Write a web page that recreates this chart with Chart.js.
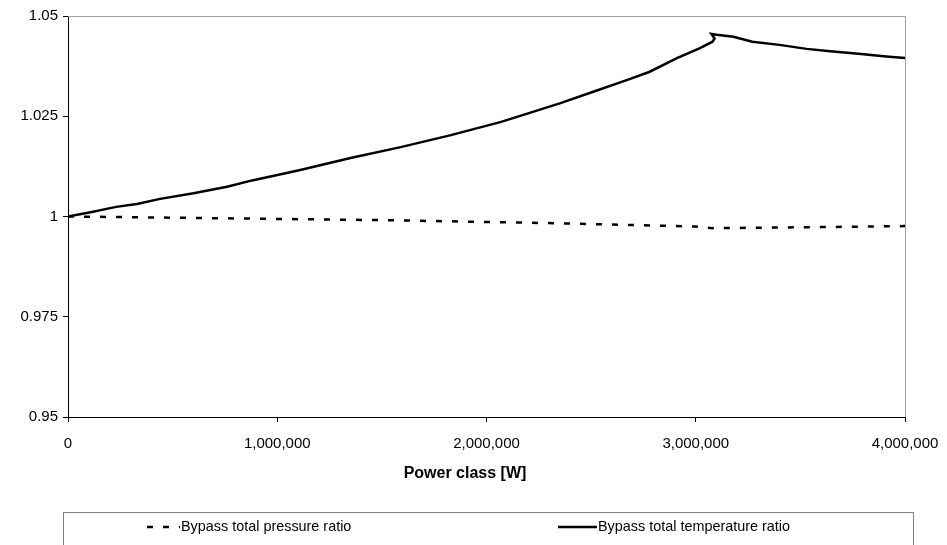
<!DOCTYPE html>
<html>
<head>
<meta charset="utf-8">
<title>Bypass ratios vs power class</title>
<script src="https://cdn.jsdelivr.net/npm/chart.js@4.4.1/dist/chart.umd.min.js"></script>
<style>
    html, body { margin: 0; padding: 0; background: #fff; }
    #wrap { width: 947px; height: 545px; }
</style>
</head>
<body>
<div id="wrap"><canvas id="ratio-chart" width="947" height="545"></canvas></div>
<script>
// --- Data ---
const tempPower = [0, 120000, 230000, 330000, 440000, 600000, 760000, 880000, 1110000, 1350000,
    1590000, 1830000, 2070000, 2350000, 2510000, 2670000, 2780000, 2910000, 3020000, 3080000,
    3090000, 3075000, 3100000, 3180000, 3270000, 3400000, 3530000, 3630000, 3790000, 3910000, 4000000];
const tempRatio = [1.0000, 1.0012, 1.0024, 1.0031, 1.0044, 1.0058, 1.0074, 1.0090, 1.0116, 1.0146,
    1.0173, 1.0203, 1.0236, 1.0282, 1.0311, 1.0340, 1.0361, 1.0395, 1.0420, 1.0436,
    1.0444, 1.0455, 1.0453, 1.0448, 1.0436, 1.0428, 1.0418, 1.0413, 1.0405, 1.0399, 1.0395];

const pressPower = [0, 500000, 1000000, 1500000, 1830000, 2350000, 2750000, 3000000, 3080000, 3300000, 3650000, 4000000];
const pressRatio = [1.0000, 0.9997, 0.9994, 0.9991, 0.9988, 0.9983, 0.9978, 0.9975, 0.9971, 0.9972, 0.9974, 0.9976];

const xTicks = [0, 1000000, 2000000, 3000000, 4000000];
const yTicks = [0.95, 0.975, 1, 1.025, 1.05];
const seriesNames = ['Bypass total pressure ratio', 'Bypass total temperature ratio'];
const xTitle = 'Power class [W]';

document.addEventListener('DOMContentLoaded', () => {
    const ctx = document.getElementById('ratio-chart');
    const fontFamily = '"Liberation Sans", Arial, sans-serif';
    const toPoints = (xs, ys) => xs.map((x, i) => ({ x: x, y: ys[i] }));

    // plot-area frame (grey top/right), axis title and the boxed legend
    const excelFrame = {
        id: 'excelFrame',
        beforeDatasetsDraw(chart) {
            const { ctx, chartArea: a } = chart;
            ctx.save();
            ctx.strokeStyle = '#a0a0a0';
            ctx.lineWidth = 1;
            ctx.beginPath();
            ctx.moveTo(a.left, a.top + 0.5);
            ctx.lineTo(a.right + 0.5, a.top + 0.5);
            ctx.lineTo(a.right + 0.5, a.bottom);
            ctx.stroke();
            ctx.restore();
        },
        afterDraw(chart) {
            const { ctx } = chart;
            ctx.save();

            // x axis title (Excel centres it a bit left of the plot centre)
            ctx.fillStyle = '#000';
            ctx.font = 'bold 16px ' + fontFamily;
            ctx.textAlign = 'center';
            ctx.textBaseline = 'middle';
            ctx.fillText(xTitle, 465, 474);

            ctx.strokeStyle = '#808080';
            ctx.lineWidth = 1;
            ctx.strokeRect(63.5, 512.5, 850, 80);

            const rowY = 527;
            const items = [
                { ds: chart.data.datasets[0], x0: 147, x1: 180 },
                { ds: chart.data.datasets[1], x0: 558, x1: 597 }
            ];
            items.forEach(it => {
                ctx.strokeStyle = it.ds.borderColor;
                ctx.lineWidth = it.ds.borderWidth;
                ctx.setLineDash(it.ds.borderDash || []);
                ctx.beginPath();
                ctx.moveTo(it.x0, rowY);
                ctx.lineTo(it.x1, rowY);
                ctx.stroke();
                ctx.setLineDash([]);
                ctx.fillStyle = '#000';
                ctx.font = '14.4px ' + fontFamily;
                ctx.textBaseline = 'middle';
                ctx.textAlign = 'left';
                ctx.fillText(it.ds.label, it.x1 + 1, rowY);
            });
            ctx.restore();
        }
    };

    new Chart(ctx, {
        type: 'scatter',
        data: {
            datasets: [{
                label: seriesNames[0],
                data: toPoints(pressPower, pressRatio),
                showLine: true,
                borderColor: '#000',
                borderWidth: 2.5,
                borderDash: [6, 10],
                pointRadius: 0,
                tension: 0
            }, {
                label: seriesNames[1],
                data: toPoints(tempPower, tempRatio),
                showLine: true,
                borderColor: '#000',
                borderWidth: 2.5,
                pointRadius: 0,
                tension: 0
            }]
        },
        options: {
            responsive: false,
            devicePixelRatio: 1,
            animation: false,
            layout: { padding: { left: 0, right: 42, top: 16, bottom: 63 } },
            plugins: {
                legend: { display: false },
                tooltip: { enabled: false }
            },
            scales: {
                x: {
                    type: 'linear',
                    min: 0,
                    max: 4000000,
                    afterBuildTicks: scale => { scale.ticks = xTicks.map(v => ({ value: v })); },
                    afterFit: scale => {
                        scale.height = 65;
                        scale.paddingLeft = 0;
                        scale.paddingRight = 0;
                    },
                    grid: { drawOnChartArea: false, drawTicks: true, tickLength: 5, color: '#000' },
                    border: { display: true, color: '#000', width: 1 },
                    ticks: {
                        color: '#000',
                        padding: 13,
                        maxRotation: 0,
                        font: { family: fontFamily, size: 15 },
                        callback: v => v.toLocaleString('en-US')
                    }
                },
                y: {
                    min: 0.95,
                    max: 1.05,
                    afterBuildTicks: scale => { scale.ticks = yTicks.map(v => ({ value: v })); },
                    afterFit: scale => {
                        scale.width = 68;
                        scale.paddingTop = 0;
                        scale.paddingBottom = 0;
                    },
                    grid: { drawOnChartArea: false, drawTicks: true, tickLength: 5, color: '#000' },
                    border: { display: true, color: '#000', width: 1 },
                    ticks: {
                        color: '#000',
                        padding: 5,
                        font: { family: fontFamily, size: 15 },
                        callback: v => String(+Number(v).toFixed(3))
                    }
                }
            }
        },
        plugins: [excelFrame]
    });
});
</script>
</body>
</html>
